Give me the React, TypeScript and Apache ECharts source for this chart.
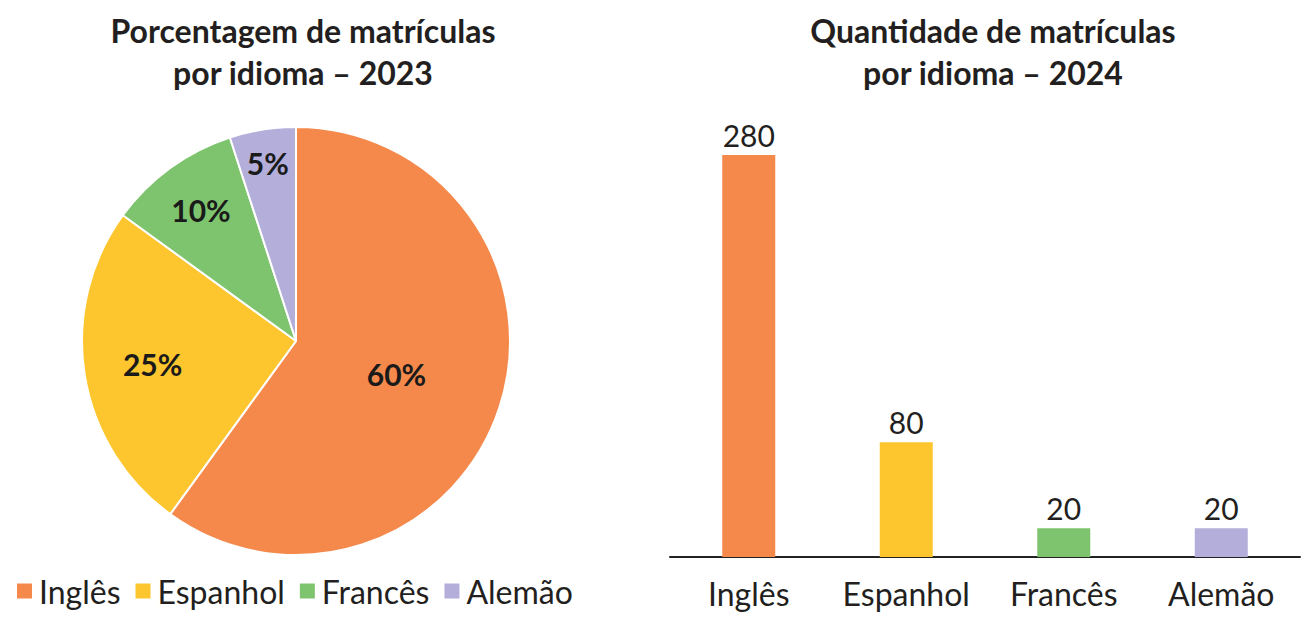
import { useEffect, useRef } from 'react';
import * as echarts from 'echarts';

const languages = ['Inglês', 'Espanhol', 'Francês', 'Alemão'];
const share2023 = [60, 25, 10, 5];
const count2024 = [280, 80, 20, 20];
const colors = ['#F4894B', '#FDC52E', '#7EC46F', '#B3AEDA'];

// how far out each pie label sits, as a fraction of the radius
const labelRadius = [0.48, 0.66, 0.735, 0.82];

const PIE_CX = 296;
const PIE_CY = 341;
const PIE_R = 214;
const FONT = 'Lato, "Open Sans", sans-serif';
const INK = '#231F20';

export default function App() {
  const chartRef = useRef<HTMLDivElement>(null);

  useEffect(() => {
    document.body.style.margin = '0';
    if (!chartRef.current) return;
    const chart = echarts.init(chartRef.current, undefined, { renderer: 'svg' });

    const titleStyle = { fontFamily: FONT, fontSize: 32, fontWeight: 'bold' as const, color: INK, lineHeight: 42 };

    const option: echarts.EChartsOption = {
      animation: false,
      backgroundColor: '#ffffff',
      textStyle: { fontFamily: FONT },
      title: [
        {
          text: 'Porcentagem de matrículas\npor idioma – 2023',
          left: 298,
          top: 4,
          textAlign: 'center',
          textStyle: titleStyle,
        },
        {
          text: 'Quantidade de matrículas\npor idioma – 2024',
          left: 988,
          top: 4,
          textAlign: 'center',
          textStyle: titleStyle,
        },
      ],
      legend: {
        data: languages,
        left: 10,
        top: 570,
        itemWidth: 17,
        itemHeight: 17,
        itemGap: 13,
        icon: 'rect',
        textStyle: { fontFamily: FONT, fontSize: 32, color: INK, padding: [0, 0, 0, 1] },
      },
      grid: { left: 670, width: 630, top: 155, height: 402 },
      xAxis: {
        type: 'category',
        data: languages,
        axisLine: { lineStyle: { color: '#222', width: 2 } },
        axisTick: { show: false },
        axisLabel: { fontFamily: FONT, fontSize: 32, color: INK, margin: 20, interval: 0 },
      },
      yAxis: { type: 'value', min: 0, max: 280, show: false },
      series: [
        {
          type: 'pie',
          center: [PIE_CX, PIE_CY],
          radius: PIE_R,
          startAngle: 90,
          clockwise: true,
          itemStyle: { borderColor: '#ffffff', borderWidth: 2 },
          label: {
            position: 'inside',
            formatter: '{c}%',
            fontFamily: FONT,
            fontSize: 30,
            fontWeight: 'bold',
            color: '#1a1a1a',
          },
          labelLayout: (params: any) => {
            const r = params.labelRect;
            const vx = r.x + r.width / 2 - PIE_CX;
            const vy = r.y + r.height / 2 - PIE_CY;
            const k = labelRadius[params.dataIndex] / 0.5 - 1;
            return { dx: vx * k, dy: vy * k };
          },
          data: languages.map((name, i) => ({
            name,
            value: share2023[i],
            itemStyle: { color: colors[i] },
          })),
        },
        {
          type: 'bar',
          barWidth: 53,
          label: {
            show: true,
            position: 'top',
            distance: 5,
            fontFamily: FONT,
            fontSize: 30,
            color: INK,
          },
          data: count2024.map((v, i) => ({ value: v, itemStyle: { color: colors[i] } })),
        },
      ],
    };

    chart.setOption(option);
    return () => {
      chart.dispose();
    };
  }, []);

  return <div ref={chartRef} style={{ width: 1311, height: 621 }} />;
}
